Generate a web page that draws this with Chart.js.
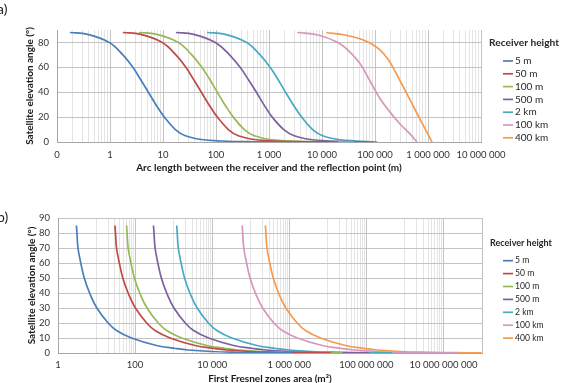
<!DOCTYPE html>
<html>
<head>
<meta charset="utf-8">
<script src="https://cdn.jsdelivr.net/npm/chart.js@4.4.0/dist/chart.umd.min.js"></script>
<style>
  html, body { margin: 0; padding: 0; background: #fff; overflow: hidden; }
  #wrap { position: relative; width: 561px; height: 383px; overflow: hidden; font-family: Lato, sans-serif; }
  .tag { position: absolute; font-size: 14px; color: #222; }
  #chartA { position: absolute; left: 0; top: 0; }
  #chartB { position: absolute; left: 0; top: 190px; }
</style>
</head>
<body>
<div id="wrap">
  <canvas id="chartA" width="561" height="190"></canvas>
  <canvas id="chartB" width="561" height="195"></canvas>
  <div class="tag" style="left:-3px;top:0px">a)</div>
  <div class="tag" style="left:-3px;top:208px">b)</div>
</div>
<script>
const heights = ['5 m', '50 m', '100 m', '500 m', '2 km', '100 km', '400 km']
const colors = ['#4a7ebb', '#be4b48', '#98b954', '#7d60a0', '#46aac5', '#d896bd', '#f59a4f']

// a) elevation angle (deg) vs arc length (m)
const angleA = [88, 86.5, 80, 70, 60, 50, 40, 30, 20, 10, 5, 2, 0.8, 0.2, 0]
const arc5m   = [0.175, 0.38, 0.97, 1.75, 2.7, 3.8, 5.3, 7.35, 10.6, 17.1, 26.4, 53, 129, 500, 3000]
const arc50m  = [1.75, 3.8, 9.7, 17.5, 27, 38, 53, 73.5, 106, 171, 264, 530, 1290, 5000, 20000]
const arc100m = [3.5, 7.65, 19.5, 35, 54, 77, 106, 147, 212, 343, 529, 1060, 2580, 9900, 40000]
const arc500m = [17.5, 38, 97, 180, 285, 410, 580, 800, 1150, 1900, 3000, 6000, 14000, 45000, 90000]
const arc2km  = [68, 149, 378, 680, 1050, 1490, 2050, 2860, 4130, 6650, 10300, 20600, 45000, 80000, 110000]
const angle100km = [88, 86, 80, 73, 63, 49, 35, 24, 14.5, 6.5, 0]
const arc100km = [3400, 8400, 20000, 32300, 52100, 80500, 124000, 192000, 296000, 457000, 620000]
const angle400km = [88, 86, 83, 79.5, 74, 66.5, 57, 46.2, 35.4, 24.5, 13.7, 0]
const arc400km = [12000, 27200, 52100, 80500, 124000, 176000, 238000, 323000, 438000, 594000, 805000, 1190000]

// b) elevation angle (deg) vs first Fresnel zone area (m2)
const angleB = [85, 80, 70, 60, 50, 40, 30, 20, 15, 10, 5, 3, 2, 1, 0.5, 0.2, 0.1]
const area5m   = [3, 3.1, 3.3, 3.9, 4.8, 6.6, 10.2, 20, 33, 81, 360, 1140, 2400, 9600, 39000, 240000, 1200000]
const area50m  = [30, 31, 33, 39, 48, 66, 102, 200, 330, 810, 3600, 11400, 24000, 96000, 390000, 2400000, 12000000]
const area100m = [60, 62, 66, 78, 96, 132, 204, 400, 660, 1620, 7200, 22800, 48000, 192000, 780000, 4800000, 24000000]
const area500m = [300, 310, 330, 390, 480, 660, 1020, 2000, 3300, 8100, 36000, 114000, 240000, 960000, 3900000, 24000000, 120000000]
const area2km  = [1200, 1240, 1320, 1560, 1920, 2640, 4080, 8000, 13200, 32400, 144000, 456000, 960000, 3840000, 15600000, 96000000, 480000000]
const area100km = [60000, 62000, 66000, 78000, 96000, 132000, 204000, 400000, 660000, 1620000, 7200000, 22800000, 48000000, 192000000, 780000000, 4.8e9, 2.4e10]
const area400km = [240000, 248000, 264000, 312000, 384000, 528000, 816000, 1600000, 2640000, 6480000, 28800000, 91200000, 192000000, 768000000, 3.12e9, 1.92e10, 9.6e10]

const tickValsA = [0.1, 1, 10, 100, 1e3, 1e4, 1e5, 1e6, 1e7]
const tickLabelsA = ['0', '1', '10', '100', '1 000', '10 000', '100 000', '1 000 000', '10 000 000']
const tickValsB = [1, 1e2, 1e4, 1e6, 1e8, 1e10, 1e11]
const tickLabelsB = ['1', '100', '10 000', '1 000 000', '100 000 000', '10 000 000 000', '']
const angleTicks = [0, 10, 20, 30, 40, 50, 60, 70, 80, 90]

function pts(xs, ys) {
    return xs.map((x, i) => ({x: x, y: ys[i]}))
}

function makeSets(list) {
    return list.map((s, i) => ({
        label: heights[i],
        data: pts(s[0], s[1]),
        borderColor: colors[i],
        backgroundColor: colors[i],
        borderWidth: 1.7,
        pointRadius: 0,
        tension: 0.4
    }))
}

// major ticks get labels, minor ticks only grid lines
function logTicks(majors, minorsOf) {
    return function(scale) {
        let ticks = []
        majors.forEach((m, i) => {
            ticks.push({value: m, big: true, idx: i})
            if (i < majors.length - 1) {
                minorsOf(m, majors[i + 1]).forEach(v => ticks.push({value: v, big: false}))
            }
        })
        scale.ticks = ticks
    }
}

const sideLegend = {
    id: 'sideLegend',
    afterDraw(chart, args, o) {
        let ctx = chart.ctx
        ctx.save()
        ctx.textBaseline = 'middle'
        ctx.textAlign = 'left'
        ctx.fillStyle = '#262626'
        ctx.font = 'bold ' + o.titleSize + 'px Lato'
        ctx.fillText(o.title, o.titleX, o.titleY)
        ctx.font = o.itemSize + 'px Lato'
        chart.data.datasets.forEach((ds, i) => {
            let y = o.y0 + i * o.dy
            ctx.strokeStyle = ds.borderColor
            ctx.lineWidth = 1.7
            ctx.beginPath()
            ctx.moveTo(o.x, y)
            ctx.lineTo(o.x + o.len, y)
            ctx.stroke()
            ctx.fillText(ds.label, o.x + o.len + 2, y)
        })
        ctx.restore()
    }
}

function buildOptions(cfg) {
    return {
        responsive: false,
        animation: false,
        layout: { padding: cfg.padding },
        plugins: {
            legend: { display: false },
            tooltip: { enabled: false },
            sideLegend: cfg.legend
        },
        scales: {
            x: {
                type: 'logarithmic',
                min: cfg.tickVals[0],
                max: cfg.tickVals[cfg.tickVals.length - 1],
                afterBuildTicks: logTicks(cfg.tickVals, cfg.minors),
                afterFit: s => { s.height = 32 },
                grid: {
                    drawTicks: false,
                    color: c => (c.tick && c.tick.big) ? '#c3c3c3' : '#e4e4e4',
                    lineWidth: 1
                },
                border: { color: '#a6a6a6' },
                ticks: {
                    autoSkip: false,
                    maxRotation: 0,
                    padding: cfg.xPad,
                    color: '#333',
                    font: { family: 'Lato', size: 9.5 },
                    callback: (v, i, t) => t[i].big ? cfg.tickLabels[t[i].idx] : ''
                },
                title: {
                    display: true,
                    text: cfg.xTitle,
                    color: '#1a1a1a',
                    padding: { top: 0, bottom: 0 },
                    font: { family: 'Lato', size: 10, weight: 'bold' }
                }
            },
            y: {
                min: 0,
                max: 90,
                afterBuildTicks: s => { s.ticks = angleTicks.map(v => ({value: v})) },
                afterFit: s => { s.width = cfg.yWidth },
                grid: { drawTicks: false, color: '#c3c3c3' },
                border: { color: '#a6a6a6' },
                ticks: {
                    padding: 8,
                    color: '#333',
                    font: { family: 'Lato', size: 9.5 }
                },
                title: {
                    display: true,
                    text: 'Satellite elevation angle (°)',
                    color: '#1a1a1a',
                    padding: { top: cfg.yTitlePad, bottom: 0 },
                    font: { family: 'Lato', size: 10, weight: 'bold' }
                }
            }
        }
    }
}

new Chart(document.getElementById('chartA'), {
    type: 'line',
    data: {
        datasets: makeSets([
            [arc5m, angleA], [arc50m, angleA], [arc100m, angleA], [arc500m, angleA],
            [arc2km, angleA], [arc100km, angle100km], [arc400km, angle400km]
        ])
    },
    options: buildOptions({
        padding: { top: 30, right: 80, bottom: 16, left: 0 },
        tickVals: tickValsA,
        tickLabels: tickLabelsA,
        minors: m => [2, 3, 4, 5, 6, 7, 8, 9].map(k => k * m),
        xPad: 7,
        yWidth: 57,
        yTitlePad: 24,
        xTitle: 'Arc length between the receiver and the reflection point (m)',
        legend: { title: 'Receiver height', titleX: 489, titleY: 43, titleSize: 10.2,
                  itemSize: 10, x: 503, len: 10, y0: 61, dy: 12.8 }
    }),
    plugins: [sideLegend]
})

new Chart(document.getElementById('chartB'), {
    type: 'line',
    data: {
        datasets: makeSets([
            [area5m, angleB], [area50m, angleB], [area100m, angleB], [area500m, angleB],
            [area2km, angleB], [area100km, angleB], [area400km, angleB]
        ])
    },
    options: buildOptions({
        padding: { top: 28, right: 79, bottom: 0, left: 0 },
        tickVals: tickValsB,
        tickLabels: tickLabelsB,
        minors: (m, next) => next / m === 100 ? [1, 2, 3, 4, 5, 6, 7, 8, 9].map(k => k * 10 * m) : [],
        xPad: 6,
        yWidth: 58,
        yTitlePad: 26,
        xTitle: 'First Fresnel zones area (m²)',
        legend: { title: 'Receiver height', titleX: 490, titleY: 53, titleSize: 9,
                  itemSize: 8.6, x: 503, len: 10, y0: 70.7, dy: 12.9 }
    }),
    plugins: [sideLegend]
})
</script>
</body>
</html>
